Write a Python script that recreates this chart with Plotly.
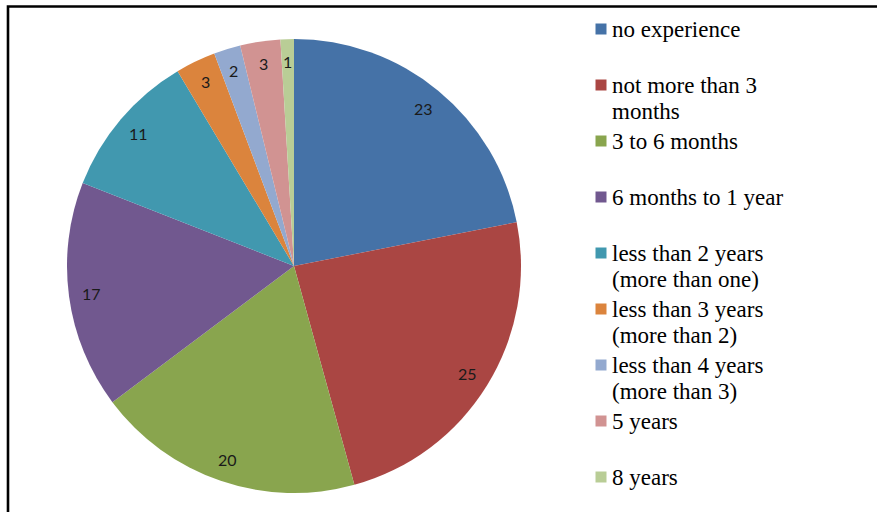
import math
import plotly.graph_objects as go

# Experience categories and respondent counts
categories = [
    "no experience",
    "not more than 3<br>months",
    "3 to 6 months",
    "6 months to 1 year",
    "less than 2 years<br>(more than one)",
    "less than 3 years<br>(more than 2)",
    "less than 4 years<br>(more than 3)",
    "5 years",
    "8 years",
]
counts = [23, 25, 20, 17, 11, 3, 2, 3, 1]
colors = ["#4572A7", "#AA4643", "#89A54E", "#71588F", "#4198AF",
          "#DB843D", "#93A9CF", "#D19392", "#B9CD96"]

W, H = 877, 512
cx_px, cy_px, R_px = 294, 266, 227

dom_x = [(cx_px - R_px) / W, (cx_px + R_px) / W]
dom_y = [1 - (cy_px + R_px) / H, 1 - (cy_px - R_px) / H]

fig = go.Figure(go.Pie(
    labels=[c.replace("<br>", " ") for c in categories],
    values=counts,
    sort=False,
    direction="clockwise",
    rotation=0,
    marker=dict(colors=colors, line=dict(width=0)),
    textinfo="none",
    hoverinfo="label+value",
    domain=dict(x=dom_x, y=dom_y),
))

# value labels placed at 90% of the radius along each slice's mid-angle
total = sum(counts)
cum = 0
for v in counts:
    mid = (cum + v / 2) / total * 2 * math.pi
    cum += v
    px = cx_px + 0.9 * R_px * math.sin(mid)
    py = cy_px - 0.9 * R_px * math.cos(mid)
    fig.add_annotation(
        x=px / W, y=1 - py / H, xref="paper", yref="paper",
        text=str(v), showarrow=False,
        font=dict(family="Lato", size=16, color="#1a1a1a"),
        xanchor="center", yanchor="middle",
    )

# legend: colour swatch plus one text line per row, rows 56 px apart
leg_x, leg_top, row_h, line_h = 610, 29, 56, 26
serif = "Liberation Serif"
for i, (cat, col) in enumerate(zip(categories, colors)):
    y0 = leg_top + row_h * i
    fig.add_shape(
        type="rect", xref="paper", yref="paper",
        x0=595.5 / W, x1=606.5 / W,
        y0=1 - (y0 + 5.5) / H, y1=1 - (y0 - 5.5) / H,
        fillcolor=col, line=dict(width=0),
    )
    for j, line in enumerate(cat.split("<br>")):
        fig.add_annotation(
            x=leg_x / W, y=1 - (y0 + line_h * j) / H,
            xref="paper", yref="paper",
            text=line, showarrow=False,
            xanchor="left", yanchor="middle",
            font=dict(family=serif, size=23, color="black"),
        )

# frame lines along the left and top edges
fig.add_shape(
    type="path", xref="paper", yref="paper",
    path=f"M {8/W},0 L {8/W},{1-6.5/H} L 1,{1-6.5/H}",
    line=dict(color="black", width=2.6),
)

fig.update_layout(
    width=W, height=H,
    margin=dict(l=0, r=0, t=0, b=0),
    paper_bgcolor="white",
    plot_bgcolor="white",
    showlegend=False,
)

fig.write_html("out.html")
